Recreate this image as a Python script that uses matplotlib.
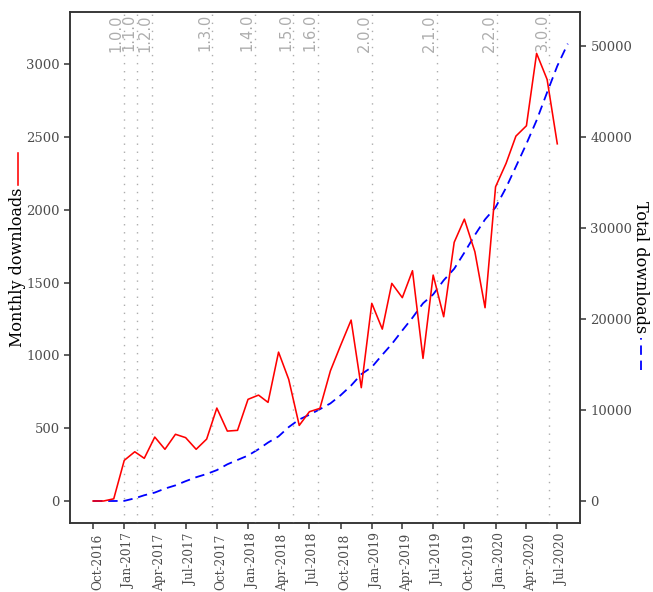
import matplotlib
matplotlib.use("Agg")
import matplotlib.pyplot as plt
import matplotlib.dates as mdates
from matplotlib.lines import Line2D
from matplotlib.transforms import ScaledTranslation
import pandas as pd

# Monthly downloads, Oct-2016 .. Jul-2020 (first of each month)
months = pd.date_range("2016-10-01", "2020-07-01", freq="MS")
monthly_downloads = [
    0, 0, 15, 279, 338, 293, 439, 355, 458, 435, 355, 425,
    638, 480, 485, 698, 727, 677, 1022, 835, 519, 613, 636, 894,
    1068, 1242, 778, 1357, 1180, 1494, 1396, 1581, 979, 1551, 1265, 1776,
    1935, 1711, 1327, 2157, 2318, 2505, 2576, 3073, 2894, 2452,
]

# Running total at the start of each month, Oct-2016 .. Aug-2020
total_months = pd.date_range("2016-10-01", "2020-08-01", freq="MS")
total_downloads = [
    0, 0, 0, 15, 294, 632, 925, 1364, 1719, 2177, 2612, 2967,
    3392, 4030, 4510, 4995, 5693, 6420, 7097, 8119, 8954, 9473, 10086, 10722,
    11616, 12684, 13926, 14704, 16061, 17241, 18735, 20131, 21712, 22691, 24242, 25507,
    27283, 29218, 30929, 32256, 34413, 36731, 39236, 41812, 44885, 47779, 50231,
]

# Release dates
release_labels = ["1.0.0", "1.1.0", "1.2.0", "1.3.0", "1.4.0", "1.5.0",
                  "1.6.0", "2.0.0", "2.1.0", "2.2.0", "3.0.0"]
release_dates = pd.to_datetime([
    "2016-12-31", "2017-02-07", "2017-03-25", "2017-09-17", "2018-01-21",
    "2018-05-14", "2018-07-25", "2019-01-02", "2019-07-13", "2020-01-05",
    "2020-06-08",
])

left_ticks = [0, 500, 1000, 1500, 2000, 2500, 3000]
right_ticks = [0, 10000, 20000, 30000, 40000, 50000]
sec_factor = 16

W, H = 653, 592
fig = plt.figure(figsize=(W / 100, H / 100), dpi=100)
L, R, T, B = 70, 580, 12, 523
ax = fig.add_axes([L / W, 1 - B / H, (R - L) / W, (B - T) / H])

serif = "DejaVu Serif"
tick_col = "#4D4D4D"
border_col = "#333333"
ver_col = "#ADADAD"
blue_dash = (0, (5.2, 3.2))

# Release markers
for d, lab in zip(release_dates, release_labels):
    ax.axvline(d, color=ver_col, lw=1.0, linestyle=(0, (1.0, 4.8)), zorder=1)
    ax.text(d, 0.996, lab, transform=ax.get_xaxis_transform(), rotation=90,
            ha="right", va="top", color=ver_col, fontsize=10.5,
            family="DejaVu Sans", zorder=2)

ax.plot(months, monthly_downloads, color="red", lw=1.15, zorder=3)

ax2 = ax.twinx()
ax2.plot(total_months, total_downloads, color="blue", lw=1.3,
         linestyle=blue_dash, zorder=3)

ylo, yhi = -151, 3357
ax.set_ylim(ylo, yhi)
ax2.set_ylim(ylo * sec_factor, yhi * sec_factor)
ax.set_xlim(pd.Timestamp("2016-07-25"), pd.Timestamp("2020-09-06"))

ax.set_yticks(left_ticks)
ax2.set_yticks(right_ticks)
ax.xaxis.set_major_locator(mdates.MonthLocator(bymonth=[1, 4, 7, 10]))
ax.xaxis.set_major_formatter(mdates.DateFormatter("%b-%Y"))

for a in (ax, ax2):
    for s in a.spines.values():
        s.set_color(border_col)
        s.set_linewidth(1.1)
    a.tick_params(length=4, width=1.1, color=border_col, labelcolor=tick_col,
                  labelsize=9.5)
    for lbl in a.get_yticklabels():
        lbl.set_family(serif)
ax.tick_params(axis="x", labelrotation=90, labelsize=8.7)

# Date labels sit a little to the right of their ticks
shift = ScaledTranslation(4.5 / 100, 0, fig.dpi_scale_trans)
for tick in ax.xaxis.get_major_ticks():
    tick.label1.set_family(serif)
    tick.label1.set_transform(tick.label1.get_transform() + shift)

ax.set_zorder(ax2.get_zorder() + 1)
ax.patch.set_visible(False)

# Axis titles with line keys
cy = 1 - ((T + B) / 2) / H
fig.text(18 / W, cy, "Monthly downloads", rotation=90, ha="center", va="center",
         fontsize=11.5, family=serif, color="black")
fig.add_artist(Line2D([18 / W, 18 / W], [1 - 185 / H, 1 - 153 / H],
                      color="red", lw=1.15))
fig.text(641 / W, cy, "Total downloads", rotation=-90, ha="center", va="center",
         fontsize=11.5, family=serif, color="black")
fig.add_artist(Line2D([641 / W, 641 / W], [1 - 370 / H, 1 - 338 / H],
                      color="blue", lw=1.3, linestyle=blue_dash))

fig.savefig("out.png", dpi=100)
